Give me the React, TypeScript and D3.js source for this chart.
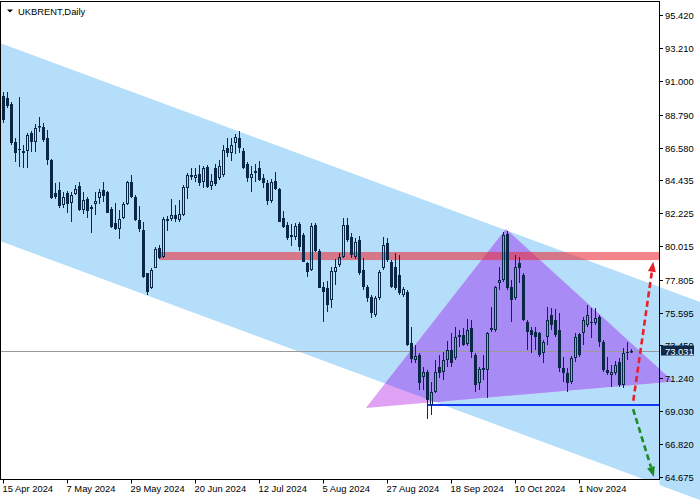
import React from 'react';
import * as d3 from 'd3';

const W = 700;
const H = 500;

const tickLabels = ['15 Apr 2024', '7 May 2024', '29 May 2024', '20 Jun 2024', '12 Jul 2024', '5 Aug 2024', '27 Aug 2024', '18 Sep 2024', '10 Oct 2024', '1 Nov 2024'];
const tickStep = 16;
const priceTicks = [95.42, 93.21, 91.0, 88.79, 86.58, 84.435, 82.225, 80.015, 77.805, 75.595, 73.45, 71.24, 69.03, 66.82, 64.675];
const priceTickLabels = ['95.420', '93.210', '91.000', '88.790', '86.580', '84.435', '82.225', '80.015', '77.805', '75.595', '73.450', '71.240', '69.030', '66.820', '64.675'];
const lastPrice = 73.031;

const opens = [90.03, 89.89, 89.49, 86.96, 86.50, 86.36, 86.36, 87.56, 86.96, 87.96, 87.96, 87.23, 85.76, 83.57, 83.77, 82.77, 83.57, 82.90, 83.50, 84.03, 82.43, 83.17, 82.50, 82.83, 83.23, 83.77, 83.63, 82.50, 81.57, 81.17, 81.90, 82.83, 84.30, 83.30, 81.77, 81.10, 78.24, 77.24, 78.57, 79.90, 79.30, 81.83, 81.83, 82.10, 81.77, 82.10, 83.90, 84.76, 84.57, 84.83, 84.30, 85.30, 84.03, 85.23, 84.57, 84.76, 86.56, 86.23, 86.90, 87.23, 86.36, 85.50, 84.57, 85.03, 85.23, 84.57, 84.23, 83.03, 84.37, 83.83, 81.90, 81.43, 80.64, 80.64, 81.50, 80.77, 78.90, 78.44, 81.43, 79.70, 77.31, 77.24, 76.44, 78.30, 78.77, 79.30, 81.43, 80.64, 79.30, 80.44, 78.44, 77.31, 76.64, 75.44, 76.57, 78.57, 80.24, 78.97, 78.64, 78.10, 76.77, 76.97, 73.58, 72.44, 72.78, 71.31, 71.64, 69.45, 70.31, 71.98, 71.64, 72.44, 73.11, 72.58, 74.11, 74.11, 73.51, 74.58, 72.78, 70.91, 71.91, 71.78, 74.44, 74.44, 77.57, 77.77, 80.84, 77.31, 76.57, 78.90, 78.10, 74.97, 74.44, 74.31, 74.24, 72.91, 73.98, 75.44, 75.11, 74.44, 71.91, 71.58, 70.98, 72.58, 74.18, 74.24, 74.77, 74.97, 74.91, 75.31, 73.64, 71.78, 71.44, 71.58, 72.31, 70.78, 72.98, 72.98];
const highs = [90.29, 90.29, 89.63, 87.23, 89.96, 86.76, 87.56, 87.70, 88.16, 88.63, 88.23, 87.76, 85.83, 84.23, 84.30, 83.63, 83.70, 83.63, 84.10, 84.30, 83.63, 83.30, 82.77, 83.63, 83.83, 84.30, 83.70, 82.63, 82.90, 82.43, 82.97, 84.37, 84.76, 83.43, 82.70, 81.63, 78.24, 78.57, 79.97, 80.10, 81.97, 82.03, 83.17, 82.77, 83.10, 84.10, 84.90, 85.23, 85.23, 85.43, 85.36, 85.43, 84.83, 85.50, 85.76, 86.76, 87.23, 87.23, 87.50, 87.70, 86.56, 85.63, 85.36, 85.50, 85.70, 84.83, 84.43, 84.50, 84.96, 83.90, 82.37, 81.63, 81.50, 81.57, 81.63, 80.90, 78.97, 81.57, 81.57, 79.84, 77.64, 77.71, 78.64, 79.17, 79.57, 81.90, 81.90, 80.90, 80.57, 80.70, 79.24, 77.44, 76.77, 76.71, 78.44, 80.64, 80.57, 79.10, 79.57, 79.44, 77.31, 77.11, 74.64, 73.44, 72.91, 71.98, 71.78, 70.98, 72.44, 72.78, 72.98, 73.71, 74.24, 74.64, 74.44, 74.58, 75.17, 75.11, 72.91, 71.98, 72.78, 74.31, 75.97, 77.37, 78.64, 80.97, 81.04, 77.77, 79.44, 79.30, 78.24, 75.11, 74.64, 74.64, 74.31, 73.78, 75.97, 75.91, 75.84, 75.57, 72.64, 71.91, 72.71, 74.24, 74.24, 75.31, 76.11, 75.91, 75.91, 75.44, 73.78, 72.64, 72.11, 72.38, 72.58, 73.24, 73.64, 73.18];
const lows = [88.23, 89.23, 86.76, 85.63, 85.30, 85.23, 85.23, 86.30, 86.30, 87.63, 86.96, 85.43, 83.17, 83.17, 82.57, 82.57, 82.23, 81.63, 83.43, 82.37, 82.17, 81.90, 80.90, 82.10, 82.83, 82.97, 82.23, 81.24, 81.10, 80.50, 81.83, 82.77, 83.23, 81.70, 80.97, 77.91, 76.77, 77.17, 78.57, 79.17, 79.24, 81.04, 81.70, 81.63, 81.63, 82.03, 83.17, 84.43, 84.30, 84.03, 83.90, 83.90, 83.77, 84.03, 84.43, 84.63, 85.96, 85.70, 86.16, 86.23, 85.16, 84.30, 83.63, 84.30, 84.37, 83.90, 82.77, 82.90, 83.77, 81.63, 81.24, 80.44, 80.04, 80.44, 79.70, 78.97, 77.97, 78.37, 79.64, 77.24, 74.97, 75.64, 75.91, 77.44, 78.64, 79.24, 80.30, 79.24, 79.17, 78.10, 77.11, 76.31, 75.24, 75.31, 76.44, 78.44, 78.97, 77.24, 77.11, 76.77, 76.64, 73.38, 72.24, 72.24, 70.45, 70.45, 68.51, 68.78, 70.25, 71.25, 71.11, 71.98, 71.98, 72.44, 73.31, 73.38, 73.38, 72.58, 70.31, 70.45, 71.11, 69.91, 74.31, 74.31, 77.11, 77.64, 77.11, 74.97, 76.44, 77.57, 75.04, 73.11, 72.91, 73.11, 72.64, 72.24, 73.44, 74.44, 73.98, 71.64, 70.98, 70.31, 70.85, 72.31, 72.64, 73.44, 74.64, 73.91, 74.77, 73.31, 71.64, 71.44, 70.65, 71.44, 70.65, 70.58, 72.44, 72.91];
const closes = [88.43, 89.36, 86.90, 86.23, 86.47, 86.23, 87.43, 86.96, 87.90, 88.03, 87.10, 85.76, 83.23, 83.30, 82.70, 83.30, 82.83, 83.43, 83.83, 82.43, 83.10, 82.37, 82.63, 83.03, 83.63, 83.37, 82.23, 81.30, 81.17, 81.83, 82.83, 84.30, 83.30, 81.77, 81.17, 77.97, 76.97, 78.44, 79.84, 79.24, 81.83, 81.70, 82.10, 81.83, 82.17, 83.97, 84.76, 84.63, 84.76, 84.23, 85.23, 83.97, 84.37, 84.17, 85.36, 86.43, 86.23, 86.76, 87.30, 86.56, 85.23, 84.57, 84.83, 84.90, 84.43, 84.23, 83.03, 84.30, 83.83, 81.63, 81.30, 80.57, 80.77, 81.37, 79.97, 78.97, 78.30, 81.37, 79.70, 77.24, 76.97, 76.11, 78.37, 78.64, 79.30, 81.43, 80.44, 79.44, 80.30, 78.24, 77.31, 76.57, 75.57, 76.57, 78.30, 80.10, 79.10, 77.31, 77.24, 76.91, 77.17, 73.44, 72.51, 72.71, 70.91, 71.64, 69.78, 70.31, 71.64, 71.58, 72.44, 73.11, 72.24, 73.98, 73.98, 73.44, 74.44, 72.98, 70.78, 71.84, 71.78, 74.24, 74.58, 77.31, 77.77, 80.77, 77.24, 76.44, 78.64, 78.57, 75.11, 74.31, 74.11, 73.98, 72.78, 73.64, 75.11, 74.77, 74.11, 71.91, 71.58, 70.91, 72.58, 73.98, 72.78, 75.11, 75.44, 74.91, 75.24, 73.64, 71.78, 71.58, 71.64, 72.11, 70.78, 72.91, 72.91, 73.031];

// Objects drawn on the chart (bar index, price)
const channelIdx = [-0.875, 174.125];
const channelUpper = [93.56, 76.31];
const channelLower = [80.37, 63.12];
const triangleIdx = [90.6, 125.6, 167.4];
const trianglePrice = [69.25, 81.17, 71.01];
const bandStartIdx = 39;
const bandPrices = [79.10, 79.64];
const supportStartIdx = 106;
const supportPrice = 69.48;
const upArrowIdx = [157.45, 162.45];
const upArrowPrice = [69.73, 78.99];
const downArrowIdx = [157.4, 162.6];
const downArrowPrice = [69.18, 64.67];

const FONT = 'Liberation Sans, Arial, sans-serif';
const NAVY = '#0a2748';

function Arrow({ x1, y1, x2, y2, color }: { x1: number; y1: number; x2: number; y2: number; color: string }) {
  const len = Math.hypot(x2 - x1, y2 - y1);
  const ux = (x2 - x1) / len;
  const uy = (y2 - y1) / len;
  const headL = 10;
  const headW = 4;
  const bx = x2 - ux * headL;
  const by = y2 - uy * headL;
  const px = -uy;
  const py = ux;
  return (
    <g>
      <line x1={x1} y1={y1} x2={bx} y2={by} stroke={color} strokeWidth={2.6} strokeDasharray="6 3.5" />
      <path d={`M${x2},${y2}L${bx + px * headW},${by + py * headW}L${bx - px * headW},${by - py * headW}Z`} fill={color} />
    </g>
  );
}

export default function App() {
  const n = opens.length;
  const x = d3.scaleLinear().domain([0, n - 1]).range([3.5, 3.5 + 4 * (n - 1)]);
  const y = d3.scaleLinear().domain([64.675, 95.42]).range([476.7, 15]);
  const plotR = 659.5;
  const plotB = 479.5;

  const chanPts: [number, number][] = [
    [x(channelIdx[0]), y(channelUpper[0])],
    [x(channelIdx[1]), y(channelUpper[1])],
    [x(channelIdx[1]), y(channelLower[1])],
    [x(channelIdx[0]), y(channelLower[0])],
  ];
  const chanStr = chanPts.map((p) => p.join(',')).join(' ');
  const triStr = triangleIdx.map((t, k) => `${x(t)},${y(trianglePrice[k])}`).join(' ');

  const candles = opens.map((o, i) => ({ i, o, h: highs[i], l: lows[i], c: closes[i] }));

  const areaPath = `M0,0H${W}V${H}H${plotR}V${plotB}H0Z`;

  return (
    <div style={{ width: W, height: H }}>
      <style>{'body{margin:0;}'}</style>
      <svg width={W} height={H} style={{ display: 'block', background: '#fff' }}>
        <defs>
          <clipPath id="area">
            <path d={areaPath} />
          </clipPath>
          <clipPath id="chan">
            <polygon points={chanStr} />
          </clipPath>
        </defs>
        <g clipPath="url(#area)">
          <polygon points={chanStr} fill="#b4defa" />
          <polygon points={triStr} fill="#e0a2f4" />
          <g clipPath="url(#chan)">
            <polygon points={triStr} fill="#a98bf5" />
          </g>
        </g>
        {/* resistance band */}
        <rect
          x={x(bandStartIdx)}
          y={y(bandPrices[1])}
          width={plotR - x(bandStartIdx)}
          height={y(bandPrices[0]) - y(bandPrices[1])}
          fill="rgb(235,50,60)"
          opacity={0.6}
        />
        {/* current price line */}
        <line x1={0} x2={plotR} y1={Math.round(y(lastPrice)) + 0.5} y2={Math.round(y(lastPrice)) + 0.5} stroke="#9a9a9a" strokeWidth={1} />
        {/* support line */}
        <line x1={x(supportStartIdx)} x2={plotR} y1={Math.round(y(supportPrice))} y2={Math.round(y(supportPrice))} stroke="#1238f0" strokeWidth={2} />
        {/* candles */}
        <g>
          {candles.map((d) => {
            const cx = x(d.i);
            const top = Math.round(y(Math.max(d.o, d.c)));
            const bot = Math.round(y(Math.min(d.o, d.c)));
            const hi = Math.round(y(d.h));
            const lo = Math.round(y(d.l));
            const bull = d.c > d.o;
            const bh = Math.max(1, bot - top);
            if (!bull) {
              return (
                <g key={d.i}>
                  <line x1={cx} x2={cx} y1={hi} y2={lo} stroke={NAVY} strokeWidth={1} />
                  <rect x={cx - 1.5} y={top} width={3} height={bh} fill={NAVY} />
                </g>
              );
            }
            return (
              <g key={d.i}>
                <line x1={cx} x2={cx} y1={hi} y2={top} stroke={NAVY} strokeWidth={1} />
                <line x1={cx} x2={cx} y1={top + bh} y2={lo} stroke={NAVY} strokeWidth={1} />
                <rect x={cx - 1} y={top + 0.5} width={2} height={Math.max(0.5, bh - 1)} fill="none" stroke={NAVY} strokeWidth={1} />
              </g>
            );
          })}
        </g>
        {/* arrows */}
        <Arrow x1={x(upArrowIdx[0])} y1={y(upArrowPrice[0])} x2={x(upArrowIdx[1])} y2={y(upArrowPrice[1])} color="#e8202a" />
        <Arrow x1={x(downArrowIdx[0])} y1={y(downArrowPrice[0])} x2={x(downArrowIdx[1])} y2={y(downArrowPrice[1])} color="#1e8a22" />
        {/* frame */}
        <line x1={0.5} x2={0.5} y1={1} y2={plotB} stroke="#000" />
        <line x1={0} x2={plotR} y1={1.5} y2={1.5} stroke="#000" />
        <line x1={plotR} x2={plotR} y1={1} y2={plotB + 0.5} stroke="#000" />
        <line x1={0} x2={plotR} y1={plotB} y2={plotB} stroke="#000" />
        {/* price axis */}
        {priceTicks.map((p, k) => {
          const yy = Math.round(y(p)) + 0.5;
          return (
            <g key={k}>
              <line x1={plotR} x2={plotR + 3.5} y1={yy} y2={yy} stroke="#000" />
              <text x={665} y={yy + 3.4} fontFamily={FONT} fontSize={9.4} fill="#000">
                {priceTickLabels[k]}
              </text>
            </g>
          );
        })}
        {/* time axis */}
        {tickLabels.map((lab, k) => {
          const xx = x(k * tickStep);
          return (
            <g key={lab}>
              <line x1={xx} x2={xx} y1={plotB} y2={plotB + 4} stroke="#000" />
              <text x={xx - 1} y={492} fontFamily={FONT} fontSize={9.4} fill="#000">
                {lab}
              </text>
            </g>
          );
        })}
        {/* last price label */}
        <rect x={661} y={Math.round(y(lastPrice)) - 5.5} width={33} height={10} fill="#0e2a48" />
        <text x={665} y={Math.round(y(lastPrice)) + 3.5} fontFamily={FONT} fontSize={9.4} fill="#fff">
          {lastPrice.toFixed(3)}
        </text>
        {/* title */}
        <path d="M7,9.5L13,9.5L10,12.5Z" fill="#000" />
        <text x={18} y={14.5} fontFamily={FONT} fontSize={9.4} fill="#000">
          UKBRENT,Daily
        </text>
      </svg>
    </div>
  );
}
